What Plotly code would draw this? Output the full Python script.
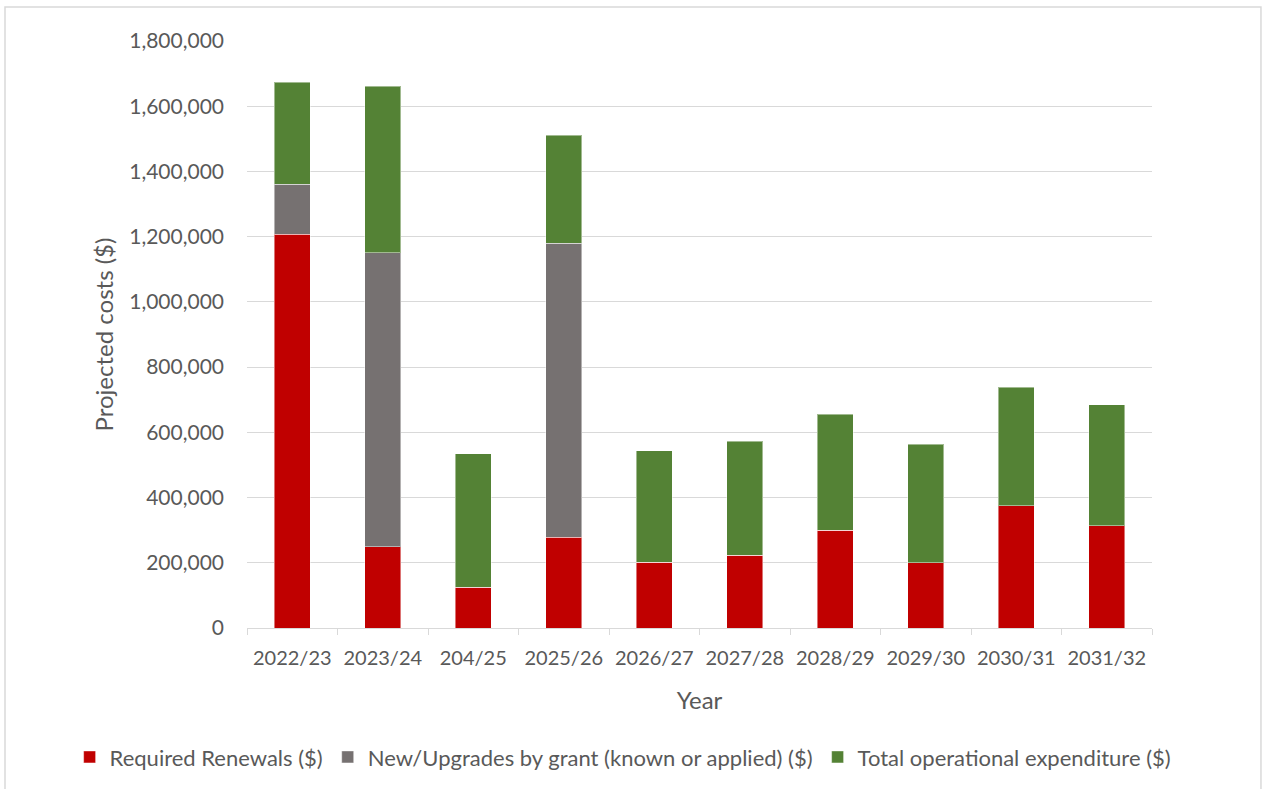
import plotly.graph_objects as go

years = ["2022/23", "2023/24", "204/25", "2025/26", "2026/27",
         "2027/28", "2028/29", "2029/30", "2030/31", "2031/32"]
renewals = [1207000, 249000, 125000, 279000, 201000, 223000, 300000, 200000, 375000, 314000]
grants = [154000, 901000, 0, 901000, 0, 0, 0, 0, 0, 0]
opex = [313000, 512000, 409000, 331000, 342000, 349000, 356000, 363000, 363000, 371000]

series = [
    ("Required Renewals ($)", renewals, "#c00000"),
    ("New/Upgrades by grant (known or applied) ($)", grants, "#767171"),
    ("Total operational expenditure ($)", opex, "#548235"),
]

FONT = "Lato"
TXT = "#595959"

fig = go.Figure()
for name, vals, col in series:
    fig.add_trace(go.Bar(
        x=years, y=vals, name=name,
        marker=dict(color=col, line=dict(color="rgba(255,255,255,0.45)", width=1)),
    ))

fig.update_layout(
    barmode="stack",
    bargap=0.6,
    width=1267, height=789,
    margin=dict(l=247, r=115, t=41, b=161, autoexpand=False),
    paper_bgcolor="white",
    plot_bgcolor="white",
    font=dict(family=FONT, size=20, color=TXT),
    legend=dict(
        orientation="h", x=-0.196, xanchor="left", y=-0.22, yanchor="middle",
        font=dict(family=FONT, size=22, color=TXT),
        traceorder="normal", itemwidth=30,
    ),
    xaxis=dict(
        title=dict(text="Year", font=dict(size=24, color=TXT), standoff=24),
        showline=True, linecolor="#d9d9d9", linewidth=1,
        ticks="outside", tickson="boundaries", ticklen=6, tickcolor="#d9d9d9",
        ticklabelstandoff=12,
        tickfont=dict(size=20, color=TXT),
        showgrid=False,
    ),
    yaxis=dict(
        title=dict(text="Projected costs ($)", font=dict(size=24, color=TXT), standoff=8),
        range=[0, 1800000], dtick=200000, tickformat=",",
        showgrid=True, gridcolor="#d9d9d9", gridwidth=1,
        zeroline=False, showline=False,
        ticks="", ticklabelstandoff=22,
        tickfont=dict(size=21, color=TXT),
    ),
    shapes=[dict(
        type="rect", xref="paper", yref="paper",
        x0=-0.2674, x1=1.1204, y0=-0.4, y1=1.0579,
        line=dict(color="#d9d9d9", width=1.5), fillcolor="rgba(0,0,0,0)",
        layer="below",
    )],
)

fig.write_html("out.html")
